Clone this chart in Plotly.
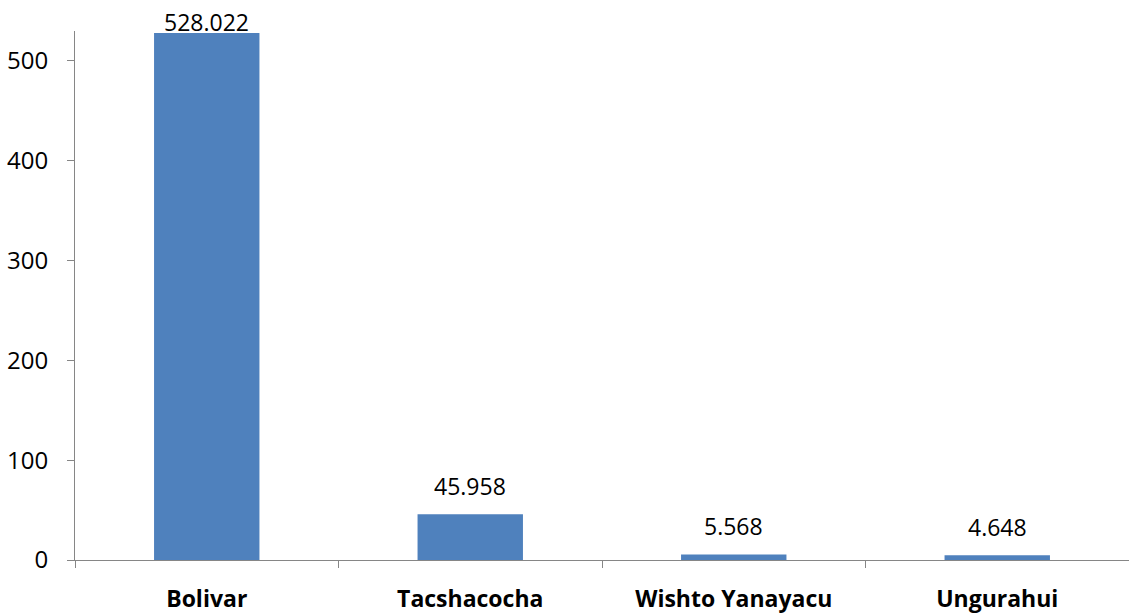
import plotly.graph_objects as go

# Communities and their values
categories = ["Bolivar", "Tacshacocha", "Wishto Yanayacu", "Ungurahui"]
values = [528.022, 45.958, 5.568, 4.648]
y_ticks = [0, 100, 200, 300, 400, 500]

Y_MAX = 530
PLOT_TOP, PLOT_BOTTOM = 31, 562
PX_PER_UNIT = (PLOT_BOTTOM - PLOT_TOP) / Y_MAX
BAR_COLOR = "#4F81BD"
AXIS_COLOR = "#868686"
FONT = "Open Sans"

fig = go.Figure(
    go.Bar(
        x=categories,
        y=values,
        marker=dict(color=BAR_COLOR, line=dict(width=0)),
        hoverinfo="x+y",
    )
)

# Value labels above each bar; the tallest one is pulled down to stay on the page
for cat, v in zip(categories, values):
    room = (Y_MAX + 9 - v) * PX_PER_UNIT
    fig.add_annotation(
        x=cat,
        y=v,
        yshift=min(28, room),
        text=f"{v:.3f}",
        showarrow=False,
        yanchor="middle",
        font=dict(family=FONT, size=23, color="#000000"),
    )

fig.update_layout(
    width=1129,
    height=614,
    margin=dict(l=75, r=0, t=PLOT_TOP, b=614 - PLOT_BOTTOM),
    paper_bgcolor="white",
    plot_bgcolor="white",
    bargap=0.6,
    showlegend=False,
    font=dict(family=FONT, size=23, color="#000000"),
)

fig.update_xaxes(
    type="category",
    showgrid=False,
    showline=True,
    linecolor=AXIS_COLOR,
    linewidth=1,
    ticks="outside",
    tickson="boundaries",
    ticklen=7,
    tickcolor=AXIS_COLOR,
    tickfont=dict(family=FONT, size=23, color="#000000", weight="bold"),
    ticklabelstandoff=18,
)

fig.update_yaxes(
    range=[0, Y_MAX],
    tickvals=y_ticks,
    showgrid=False,
    zeroline=False,
    showline=True,
    linecolor=AXIS_COLOR,
    linewidth=1,
    ticks="outside",
    ticklen=7,
    tickcolor=AXIS_COLOR,
    tickfont=dict(family=FONT, size=24, color="#000000"),
    ticklabelstandoff=14,
)

fig.write_html("out.html")
